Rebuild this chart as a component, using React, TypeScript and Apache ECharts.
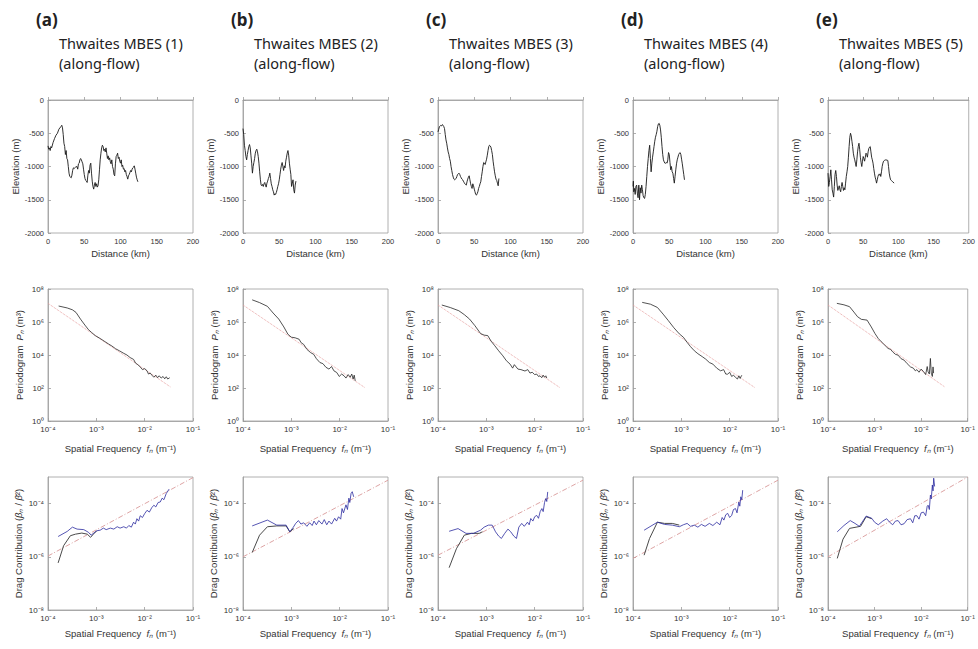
import React, { useEffect, useRef } from "react";
import * as echarts from "echarts";

// ---------- Data ----------
const panelLetters = ["(a)", "(b)", "(c)", "(d)", "(e)"];
const panelTitles = ["Thwaites MBES (1)", "Thwaites MBES (2)", "Thwaites MBES (3)", "Thwaites MBES (4)", "Thwaites MBES (5)"];
const panelSubtitle = "(along-flow)";

const distanceTicks = [0, 50, 100, 150, 200];
const elevationTicks = [-2000, -1500, -1000, -500, 0];

// Elevation profiles [distance km, elevation m]
const profileA = [[0,-690],[1,-740],[2,-720],[3,-760],[4,-700],[5,-720],[7,-640],[9,-580],[11,-530],[13,-500],[15,-440],[17,-410],[18,-400],[19,-380],[20,-420],[21,-520],[22,-650],[23,-700],[24,-820],[25,-760],[26,-880],[27,-900],[28,-1000],[29,-1100],[30,-1150],[31,-1160],[32,-1170],[33,-1130],[34,-1060],[35,-1020],[36,-1030],[38,-1010],[40,-1000],[41,-1040],[42,-960],[43,-950],[44,-900],[45,-880],[46,-900],[47,-930],[48,-960],[49,-1040],[50,-1120],[51,-1180],[52,-1210],[53,-1220],[54,-1240],[55,-1130],[56,-1060],[57,-1100],[58,-980],[59,-950],[60,-1100],[61,-1220],[62,-1300],[63,-1340],[64,-1280],[65,-1240],[66,-1300],[67,-1260],[68,-1310],[69,-1290],[70,-1200],[71,-1050],[72,-900],[73,-800],[74,-720],[75,-680],[76,-700],[77,-760],[78,-740],[79,-780],[80,-720],[81,-800],[82,-880],[83,-840],[84,-900],[85,-870],[86,-930],[87,-960],[88,-900],[89,-1000],[90,-1040],[91,-1120],[92,-1140],[93,-960],[94,-850],[95,-830],[96,-800],[97,-880],[98,-860],[99,-920],[100,-950],[101,-900],[102,-1000],[103,-980],[104,-1040],[105,-1030],[106,-1080],[107,-1060],[108,-1120],[109,-1150],[110,-1190],[111,-1140],[112,-1120],[113,-1090],[114,-1060],[115,-1080],[116,-1040],[117,-1020],[118,-1010],[119,-990],[120,-1040],[121,-1100],[122,-1160],[123,-1200],[124,-1230]];
const profileB = [[0,-430],[1,-520],[2,-680],[3,-760],[4,-850],[5,-900],[6,-820],[7,-760],[8,-700],[9,-670],[10,-720],[11,-840],[12,-950],[13,-1100],[14,-1000],[15,-940],[16,-880],[17,-800],[18,-760],[19,-740],[20,-780],[21,-850],[22,-950],[23,-1080],[24,-1200],[25,-1280],[26,-1290],[27,-1270],[28,-1300],[29,-1260],[30,-1240],[31,-1280],[32,-1310],[33,-1250],[34,-1220],[35,-1180],[36,-1150],[37,-1100],[38,-1180],[39,-1260],[40,-1300],[41,-1350],[42,-1380],[43,-1430],[44,-1410],[45,-1420],[46,-1390],[47,-1350],[48,-1300],[49,-1260],[50,-1200],[51,-1120],[52,-1040],[53,-980],[54,-940],[55,-1000],[56,-1060],[57,-990],[58,-1020],[59,-920],[60,-860],[61,-800],[62,-760],[63,-830],[64,-950],[65,-1040],[66,-1120],[67,-1300],[68,-1250],[69,-1200],[70,-1350],[71,-1400],[72,-1280],[73,-1220]];
const profileC = [[0,-480],[1,-440],[2,-400],[3,-390],[4,-380],[5,-390],[6,-370],[7,-380],[8,-400],[9,-430],[10,-520],[11,-600],[12,-650],[13,-720],[14,-780],[15,-820],[16,-880],[17,-920],[18,-1000],[19,-1060],[20,-1120],[21,-1160],[22,-1190],[23,-1200],[24,-1190],[25,-1180],[26,-1150],[27,-1120],[28,-1110],[29,-1100],[30,-1120],[31,-1150],[32,-1170],[33,-1190],[34,-1200],[35,-1220],[36,-1240],[37,-1260],[38,-1270],[39,-1280],[40,-1230],[41,-1190],[42,-1160],[43,-1140],[44,-1200],[45,-1260],[46,-1300],[47,-1330],[48,-1260],[49,-1290],[50,-1340],[51,-1380],[52,-1420],[53,-1430],[54,-1410],[55,-1380],[56,-1330],[57,-1300],[58,-1260],[59,-1230],[60,-1150],[61,-1080],[62,-1000],[63,-940],[64,-950],[65,-970],[66,-930],[67,-890],[68,-830],[69,-760],[70,-700],[71,-680],[72,-690],[73,-710],[74,-760],[75,-820],[76,-920],[77,-1000],[78,-1080],[79,-1140],[80,-1190],[81,-1210],[82,-1250],[83,-1290],[84,-1180]];
const profileD = [[0,-1300],[0.5,-1220],[1,-1380],[2,-1330],[3,-1420],[4,-1300],[5,-1280],[6,-1400],[7,-1470],[8,-1280],[9,-1500],[10,-1320],[11,-1400],[12,-1280],[13,-1350],[14,-1440],[15,-1470],[16,-1480],[17,-1420],[18,-1300],[19,-1150],[20,-1000],[21,-880],[22,-760],[23,-680],[24,-880],[25,-1080],[26,-950],[27,-860],[28,-780],[29,-700],[30,-620],[31,-560],[32,-520],[33,-470],[34,-400],[35,-360],[36,-350],[37,-380],[38,-450],[39,-560],[40,-700],[41,-820],[42,-900],[43,-930],[44,-950],[45,-950],[46,-940],[47,-950],[48,-900],[49,-790],[50,-820],[51,-940],[52,-1050],[53,-1000],[54,-1080],[55,-1100],[56,-1180],[57,-1250],[58,-1150],[59,-1050],[60,-960],[61,-900],[62,-860],[63,-820],[64,-800],[65,-790],[66,-820],[67,-890],[68,-960],[69,-1040],[70,-1120],[71,-1200]];
const profileE = [[0,-1100],[1,-1300],[2,-1240],[3,-1150],[4,-1050],[5,-1200],[6,-1350],[7,-1400],[8,-1460],[9,-1300],[10,-1120],[11,-1060],[12,-1150],[13,-1280],[14,-1360],[15,-1320],[16,-1290],[17,-1350],[18,-1380],[19,-1300],[20,-1240],[21,-1300],[22,-1360],[23,-1320],[24,-1350],[25,-1250],[26,-1150],[27,-1080],[28,-1000],[29,-860],[30,-700],[31,-560],[32,-500],[33,-540],[34,-620],[35,-700],[36,-800],[37,-860],[38,-900],[39,-950],[40,-1000],[41,-900],[42,-780],[43,-700],[44,-650],[45,-740],[46,-860],[47,-940],[48,-1000],[49,-920],[50,-850],[51,-880],[52,-920],[53,-860],[54,-800],[55,-820],[56,-860],[57,-780],[58,-730],[59,-710],[60,-700],[61,-780],[62,-860],[63,-900],[64,-950],[65,-1030],[66,-1100],[67,-1160],[68,-1200],[69,-1250],[70,-1200],[71,-1150],[72,-1120],[73,-1130],[74,-1110],[75,-1150],[76,-1080],[77,-1000],[78,-950],[79,-920],[80,-910],[82,-900],[84,-905],[85,-910],[86,-1000],[87,-1100],[88,-1160],[89,-1200],[90,-1210],[92,-1230],[94,-1250]];

// Periodograms [frequency 1/m, P m^3]
const periodA = [[1.66e-4,9.3e6],[2.5e-4,7.1e6],[3.2e-4,5.5e6],[3.8e-4,3.8e6],[4.7e-4,1.5e6],[5.8e-4,6.5e5],[6.9e-4,3.4e5],[8e-4,2.3e5],[9.5e-4,1.5e5],[1.2e-3,1.0e5],[1.5e-3,6.5e4],[1.8e-3,4.6e4],[2.1e-3,3.5e4],[2.5e-3,2.4e4],[3.0e-3,1.8e4],[3.7e-3,1.26e4],[4.3e-3,1.0e4],[5.0e-3,7.0e3],[5.9e-3,5.4e3],[6.5e-3,3.2e3],[7.2e-3,2.6e3],[8.1e-3,1.9e3],[9.0e-3,1.3e3],[1.0e-2,1.5e3],[1.12e-2,1.1e3],[1.2e-2,7e2],[1.3e-2,8e2],[1.45e-2,5.5e2],[1.55e-2,4.5e2],[1.7e-2,6e2],[1.85e-2,4.2e2],[2.0e-2,5.5e2],[2.2e-2,4.0e2],[2.4e-2,5.0e2],[2.6e-2,3.6e2],[2.8e-2,4.8e2],[3.0e-2,3.5e2],[3.3e-2,4.2e2]];
const periodB = [[1.55e-4,2.2e7],[2.2e-4,1.5e7],[3.2e-4,8.9e6],[4.2e-4,3.5e6],[5.5e-4,1.5e6],[7e-4,5e5],[8.5e-4,1.8e5],[1.0e-3,1.2e5],[1.2e-3,1.1e5],[1.45e-3,9e4],[1.6e-3,5.5e4],[1.8e-3,4.4e4],[2.1e-3,2.2e4],[2.5e-3,1.4e4],[2.9e-3,1.1e4],[3.3e-3,6e3],[3.9e-3,3.5e3],[4.5e-3,3.0e3],[5.2e-3,1.8e3],[6.0e-3,1.4e3],[6.8e-3,2.0e3],[7.6e-3,1.1e3],[8.7e-3,8.7e2],[9.8e-3,5.0e2],[1.1e-2,7e2],[1.23e-2,5.5e2],[1.35e-2,4.0e2],[1.5e-2,6.5e2],[1.65e-2,4.5e2],[1.78e-2,7e2],[1.9e-2,3.5e2],[2.0e-2,6e2],[2.1e-2,2.7e2]];
const periodC = [[1.2e-4,1.07e7],[1.8e-4,7.5e6],[2.7e-4,4.8e6],[3.5e-4,2.8e6],[4.5e-4,1.5e6],[5.8e-4,6e5],[7.6e-4,2.0e5],[9e-4,1.6e5],[1.07e-3,1.5e5],[1.25e-3,7e4],[1.5e-3,3.6e4],[1.8e-3,1.8e4],[2.2e-3,8.9e3],[2.6e-3,4.5e3],[3.1e-3,2.8e3],[3.5e-3,1.6e3],[3.8e-3,2.6e3],[4.5e-3,1.4e3],[5.2e-3,1.3e3],[6.3e-3,1.07e3],[7.2e-3,1.3e3],[8e-3,8e2],[8.9e-3,9e2],[1.0e-2,6.5e2],[1.1e-2,7e2],[1.2e-2,5e2],[1.29e-2,5.5e2],[1.4e-2,4.2e2],[1.5e-2,6e2],[1.6e-2,4.5e2],[1.7e-2,5.5e2],[1.78e-2,4e2]];
const periodD = [[1.55e-4,1.55e7],[2.3e-4,1.2e7],[3.2e-4,7.6e6],[4.2e-4,3e6],[5.4e-4,1.2e6],[7e-4,4.5e5],[9.1e-4,1.9e5],[1.1e-3,1.2e5],[1.32e-3,5.8e4],[1.55e-3,3.2e4],[1.86e-3,1.8e4],[2.2e-3,1.2e4],[2.7e-3,8e3],[3.2e-3,5.6e3],[3.8e-3,3.5e3],[4.5e-3,2.8e3],[5.4e-3,1.6e3],[6.5e-3,1.1e3],[7.5e-3,1.3e3],[8.3e-3,7e2],[9.1e-3,6.9e2],[1.0e-2,9e2],[1.1e-2,5e2],[1.2e-2,6e2],[1.32e-2,4.4e2],[1.45e-2,3.5e2],[1.55e-2,5.5e2],[1.65e-2,3.8e2],[1.75e-2,5.5e2],[1.8e-2,6e2]];
const periodE = [[1.55e-4,1.35e7],[2.2e-4,1.1e7],[2.9e-4,8.5e6],[3.6e-4,4e6],[4.3e-4,2.1e6],[5.2e-4,1.45e6],[6.9e-4,1.3e6],[8.5e-4,5e5],[1.02e-3,2.0e5],[1.2e-3,1.0e5],[1.4e-3,6.3e4],[1.65e-3,4e4],[1.95e-3,2.5e4],[2.2e-3,2.2e4],[2.45e-3,1.55e4],[2.8e-3,1.1e4],[3.2e-3,9.8e3],[3.7e-3,6e3],[4.3e-3,4.9e3],[5e-3,3e3],[5.9e-3,1.9e3],[6.8e-3,1.6e3],[7.5e-3,1.1e3],[8.1e-3,1.3e3],[9e-3,9e2],[1.0e-2,1.4e3],[1.12e-2,1.0e3],[1.25e-2,6.5e2],[1.35e-2,2.0e3],[1.41e-2,9.5e2],[1.5e-2,7e2],[1.58e-2,6.2e3],[1.65e-2,8e2],[1.74e-2,5e2],[1.8e-2,1.9e3],[1.85e-2,8e2]];

// Power-law fits to periodograms (end points)
const periodFitA = [[1e-4,1.35e7],[3.4e-2,1.17e2]];
const periodFitB = [[1e-4,1.07e7],[3.3e-2,1.07e2]];
const periodFitC = [[1e-4,1.07e7],[3.3e-2,1.07e2]];
const periodFitD = [[1e-4,1.07e7],[3.3e-2,1.07e2]];
const periodFitE = [[1e-4,1.07e7],[3.2e-2,1.17e2]];

// Drag contribution: dark (low-frequency) curve and blue curve
const dragDarkA = [[1.62e-4,5.9e-7],[2.1e-4,2.6e-6],[2.9e-4,6.2e-6],[3.7e-4,7.1e-6],[5e-4,7.8e-6],[6.5e-4,7.1e-6],[7.6e-4,5.4e-6],[8.7e-4,7.1e-6],[1.02e-3,9.5e-6]];
const dragBlueA = [[1.62e-4,5.8e-6],[2.5e-4,9e-6],[3.2e-4,1.3e-5],[4e-4,1.1e-5],[5.5e-4,1.05e-5],[6.9e-4,8.3e-6],[7.8e-4,6.5e-6],[9e-4,8e-6],[1.02e-3,9.5e-6],[1.2e-3,1.0e-5],[1.4e-3,1.2e-5],[1.6e-3,1.05e-5],[1.95e-3,1.2e-5],[2.3e-3,1.1e-5],[2.7e-3,1.35e-5],[3.1e-3,1.2e-5],[3.7e-3,1.35e-5],[4.2e-3,1.2e-5],[4.7e-3,1.5e-5],[5.3e-3,1.3e-5],[5.9e-3,2.0e-5],[6.4e-3,1.7e-5],[6.9e-3,2.7e-5],[7.5e-3,2.2e-5],[8.1e-3,3.5e-5],[9e-3,3.0e-5],[1.0e-2,4.2e-5],[1.12e-2,5.6e-5],[1.25e-2,4.8e-5],[1.4e-2,7.0e-5],[1.55e-2,8.7e-5],[1.7e-2,7.5e-5],[1.9e-2,1.1e-4],[2.1e-2,1.15e-4],[2.3e-2,1.6e-4],[2.5e-2,1.4e-4],[2.8e-2,2.4e-4],[3.2e-2,3.5e-4]];
const dragDarkB = [[1.55e-4,1.45e-6],[2.2e-4,6.5e-6],[3.2e-4,1.35e-5],[5e-4,1.45e-5],[7.8e-4,1.45e-5],[9.3e-4,8.7e-6],[1.12e-3,1.15e-5]];
const dragBlueB = [[1.55e-4,1.45e-5],[3.2e-4,2.4e-5],[5e-4,1.55e-5],[7.8e-4,1.55e-5],[9.3e-4,8.7e-6],[1.1e-3,1.3e-5],[1.23e-3,1.8e-5],[1.4e-3,2.3e-5],[1.58e-3,1.7e-5],[1.8e-3,1.9e-5],[2.1e-3,1.4e-5],[2.4e-3,1.9e-5],[2.7e-3,1.5e-5],[2.95e-3,2.2e-5],[3.3e-3,1.6e-5],[3.7e-3,2.3e-5],[4.3e-3,1.7e-5],[4.8e-3,2.5e-5],[5.4e-3,1.6e-5],[6e-3,2.2e-5],[6.8e-3,1.7e-5],[7.9e-3,2.8e-5],[8.6e-3,2.2e-5],[9.5e-3,3.2e-5],[1.05e-2,2.6e-5],[1.12e-2,6.5e-5],[1.2e-2,4.5e-5],[1.35e-2,9e-5],[1.45e-2,6e-5],[1.55e-2,1.6e-4],[1.62e-2,1.1e-4],[1.72e-2,2.4e-4],[1.82e-2,2.8e-4],[1.95e-2,1.8e-4]];
const dragDarkC = [[1.7e-4,3.9e-7],[2.4e-4,2.0e-6],[3.5e-4,6.5e-6],[4.9e-4,7.6e-6],[7.1e-4,7.6e-6],[8.3e-4,8.7e-6]];
const dragBlueC = [[1.7e-4,9.1e-6],[2.6e-4,1.15e-5],[3.8e-4,7.6e-6],[5.4e-4,7.6e-6],[7.6e-4,1.0e-5],[9e-4,1.3e-5],[1.1e-3,1.55e-5],[1.32e-3,1.55e-5],[1.55e-3,8.7e-6],[1.8e-3,6e-6],[2.05e-3,4.9e-6],[2.4e-3,7.6e-6],[2.8e-3,1.1e-5],[3.2e-3,8.7e-6],[3.7e-3,6e-6],[4.2e-3,4.9e-6],[4.7e-3,1.3e-5],[5.4e-3,1.8e-5],[6.1e-3,1.4e-5],[7.1e-3,2.0e-5],[7.7e-3,1.6e-5],[8.3e-3,2.75e-5],[9.2e-3,2.2e-5],[1.0e-2,3.2e-5],[1.1e-2,3.6e-5],[1.2e-2,2.8e-5],[1.3e-2,5e-5],[1.41e-2,6.5e-5],[1.5e-2,5e-5],[1.6e-2,1.1e-4],[1.7e-2,1.55e-4],[1.78e-2,1.2e-4],[1.86e-2,2.75e-4]];
const dragDarkD = [[1.7e-4,1.15e-6],[2.2e-4,4.9e-6],[3.2e-4,2.0e-5],[4.5e-4,1.8e-5],[6.5e-4,1.8e-5],[9.1e-4,1.55e-5]];
const dragBlueD = [[1.7e-4,1.0e-5],[3.2e-4,2.0e-5],[4.5e-4,1.65e-5],[6.5e-4,1.55e-5],[9.1e-4,1.35e-5],[1.1e-3,1.6e-5],[1.32e-3,1.8e-5],[1.55e-3,1.4e-5],[1.86e-3,1.55e-5],[2.2e-3,1.3e-5],[2.6e-3,1.65e-5],[3.1e-3,1.4e-5],[3.8e-3,1.8e-5],[4.5e-3,1.5e-5],[5.4e-3,2.0e-5],[6.3e-3,1.6e-5],[7e-3,3e-5],[7.6e-3,2.4e-5],[8.3e-3,3.8e-5],[9.1e-3,4.3e-5],[1.0e-2,3e-5],[1.1e-2,3.6e-5],[1.2e-2,6e-5],[1.32e-2,6.5e-5],[1.42e-2,4.5e-5],[1.55e-2,1.15e-4],[1.62e-2,8e-5],[1.7e-2,1.8e-4],[1.78e-2,1.4e-4],[1.86e-2,3.2e-4]];
const dragDarkE = [[1.58e-4,8.7e-7],[2.1e-4,4.6e-6],[2.9e-4,1.17e-5],[4e-4,1.3e-5],[5e-4,1.4e-5],[6.6e-4,3.2e-5],[8.7e-4,2.7e-5]];
const dragBlueE = [[1.58e-4,8.7e-6],[2.2e-4,1.5e-5],[3e-4,2.3e-5],[3.8e-4,1.8e-5],[4.7e-4,1.4e-5],[5.6e-4,2.2e-5],[6.6e-4,3.4e-5],[8.7e-4,2.8e-5],[1.0e-3,2.0e-5],[1.2e-3,1.6e-5],[1.5e-3,2.2e-5],[1.82e-3,2.7e-5],[2.1e-3,2.0e-5],[2.45e-3,1.6e-5],[2.8e-3,2.2e-5],[3.2e-3,2.3e-5],[3.7e-3,1.6e-5],[4.3e-3,1.75e-5],[5e-3,2.5e-5],[5.9e-3,2.7e-5],[6.6e-3,1.9e-5],[7.3e-3,3.5e-5],[8.1e-3,3.5e-5],[9e-3,2.6e-5],[1.0e-2,4.5e-5],[1.12e-2,4.8e-5],[1.25e-2,3.5e-5],[1.35e-2,8e-5],[1.41e-2,8.7e-5],[1.5e-2,6e-5],[1.58e-2,2.1e-4],[1.65e-2,1.5e-4],[1.74e-2,5e-4],[1.8e-2,3e-4],[1.86e-2,9e-4],[1.95e-2,4.4e-4]];

// Linear (slope ~1) fits to drag contribution (end points)
const dragFitA = [[1e-4,1.07e-6],[1e-1,9.5e-4]];
const dragFitB = [[1e-4,1.0e-6],[1e-1,7.6e-4]];
const dragFitC = [[1e-4,1.15e-6],[1e-1,7.6e-4]];
const dragFitD = [[1e-4,8.7e-7],[1e-1,7.6e-4]];
const dragFitE = [[1e-4,1.0e-6],[1e-1,1.0e-3]];

const profiles = [profileA, profileB, profileC, profileD, profileE];
const periods = [periodA, periodB, periodC, periodD, periodE];
const periodFits = [periodFitA, periodFitB, periodFitC, periodFitD, periodFitE];
const dragDarks = [dragDarkA, dragDarkB, dragDarkC, dragDarkD, dragDarkE];
const dragBlues = [dragBlueA, dragBlueB, dragBlueC, dragBlueD, dragBlueE];
const dragFits = [dragFitA, dragFitB, dragFitC, dragFitD, dragFitE];

// ---------- Layout / style ----------
const COL_LEFT = 48;
const COL_STEP = 195;
const PLOT_W = 145;
const ROW_TOP = [100, 289, 477];
const ROW_H = [133, 132, 133];
const AXIS_COLOR = "#9c9c9c";
const LABEL_COLOR = "#333333";
const FONT = "Liberation Sans, Arial, sans-serif";

const SUP: Record<string, string> = { "-": "⁻", "0": "⁰", "1": "¹", "2": "²", "3": "³", "4": "⁴", "5": "⁵", "6": "⁶", "7": "⁷", "8": "⁸", "9": "⁹" };
const powLabel = (v: number) => {
  const e = Math.round(Math.log10(v));
  return "10" + String(e).split("").map((c) => SUP[c] || c).join("");
};
const evenPowLabel = (v: number) => {
  const e = Math.round(Math.log10(v));
  return e % 2 === 0 ? powLabel(v) : "";
};
const plainLabel = (v: number) => String(v);

function baseAxis(gridIndex: number, labelSize: number) {
  return {
    gridIndex,
    axisLine: { show: true, lineStyle: { color: AXIS_COLOR, width: 0.8 } },
    axisTick: { show: true, inside: true, length: 3, lineStyle: { color: AXIS_COLOR, width: 0.8 } },
    axisLabel: { fontSize: labelSize, color: LABEL_COLOR, fontFamily: FONT, margin: 4 },
    splitLine: { show: false },
    nameLocation: "middle",
    nameTextStyle: { fontSize: 9.5, color: LABEL_COLOR, fontFamily: FONT, rich: { i: { fontStyle: "italic", fontSize: 9.5, color: LABEL_COLOR, fontFamily: FONT } } },
  };
}

function buildOption() {
  const grid: any[] = [];
  const xAxis: any[] = [];
  const yAxis: any[] = [];
  const series: any[] = [];
  const title: any[] = [];

  for (let c = 0; c < 5; c++) {
    const left = COL_LEFT + COL_STEP * c;
    title.push({
      text: panelLetters[c],
      left: 36 + COL_STEP * c,
      top: 11,
      padding: 0,
      textStyle: { fontSize: 17, fontWeight: "bold", color: "#222", fontFamily: "Noto Sans, sans-serif" },
    });
    title.push({
      text: panelTitles[c] + "\n" + panelSubtitle,
      left: 59 + COL_STEP * c,
      top: 33,
      padding: 0,
      textStyle: { fontSize: 14.5, fontWeight: "normal", color: "#222", fontFamily: "Noto Sans, sans-serif", lineHeight: 20 },
    });
    for (let r = 0; r < 3; r++) {
      grid.push({ left, top: ROW_TOP[r], width: PLOT_W, height: ROW_H[r], show: true, borderColor: AXIS_COLOR, borderWidth: 0.8, backgroundColor: "transparent" });
    }
  }

  for (let c = 0; c < 5; c++) {
    // Row 1: elevation profile
    const g0 = c * 3;
    const xb0 = baseAxis(g0, 7.5);
    const yb0 = baseAxis(g0, 7.5);
    xAxis.push({ ...xb0, type: "value", min: distanceTicks[0], max: distanceTicks[distanceTicks.length - 1], interval: 50, axisLabel: { ...xb0.axisLabel, formatter: plainLabel }, name: "Distance (km)", nameGap: 15 });
    yAxis.push({ ...yb0, type: "value", min: elevationTicks[0], max: elevationTicks[elevationTicks.length - 1], interval: 500, axisLabel: { ...yb0.axisLabel, formatter: plainLabel }, name: "Elevation (m)", nameGap: 27 });
    series.push({ type: "line", xAxisIndex: g0, yAxisIndex: g0, data: profiles[c], showSymbol: false, symbol: "none", lineStyle: { color: "#1a1a1a", width: 0.9 } });

    // Row 2: periodogram
    const g1 = c * 3 + 1;
    const xb1 = baseAxis(g1, 8);
    xAxis.push({ ...xb1, type: "log", logBase: 10, min: 1e-4, max: 1e-1, axisLabel: { ...xb1.axisLabel, formatter: powLabel }, name: "Spatial Frequency  {i|f}{i|ₙ} (m⁻¹)", nameGap: 22 });
    const yb1 = baseAxis(g1, 8);
    yAxis.push({ ...yb1, type: "log", logBase: 10, min: 1, max: 1e8, interval: 2, axisLabel: { ...yb1.axisLabel, formatter: evenPowLabel }, name: "Periodogram  {i|P}{i|ₙ} (m³)", nameGap: 24 });
    series.push({ type: "line", xAxisIndex: g1, yAxisIndex: g1, data: periodFits[c], showSymbol: false, symbol: "none", lineStyle: { color: "#e59a9a", width: 0.9, type: "dotted" } });
    series.push({ type: "line", xAxisIndex: g1, yAxisIndex: g1, data: periods[c], showSymbol: false, symbol: "none", lineStyle: { color: "#262626", width: 0.8 } });

    // Row 3: drag contribution
    const g2 = c * 3 + 2;
    const xb2 = baseAxis(g2, 8);
    xAxis.push({ ...xb2, type: "log", logBase: 10, min: 1e-4, max: 1e-1, axisLabel: { ...xb2.axisLabel, formatter: powLabel }, name: "Spatial Frequency  {i|f}{i|ₙ} (m⁻¹)", nameGap: 18 });
    const yb2 = baseAxis(g2, 8);
    yAxis.push({ ...yb2, type: "log", logBase: 10, min: 1e-8, max: 1e-3, interval: 2, axisLabel: { ...yb2.axisLabel, formatter: evenPowLabel, showMaxLabel: false }, name: "Drag Contribution ({i|β}{i|ₙ} / {i|β̄}²)", nameGap: 25 });
    series.push({ type: "line", xAxisIndex: g2, yAxisIndex: g2, data: dragFits[c], showSymbol: false, symbol: "none", lineStyle: { color: "#d99a9a", width: 0.9, type: [5, 2, 1, 2] } });
    series.push({ type: "line", xAxisIndex: g2, yAxisIndex: g2, data: dragDarks[c], showSymbol: false, symbol: "none", lineStyle: { color: "#4a4a4a", width: 1 } });
    series.push({ type: "line", xAxisIndex: g2, yAxisIndex: g2, data: dragBlues[c], showSymbol: false, symbol: "none", lineStyle: { color: "#2b2ba0", width: 0.8 } });
  }

  return { animation: false, backgroundColor: "#ffffff", title, grid, xAxis, yAxis, series };
}

export default function App() {
  const ref = useRef<HTMLDivElement>(null);
  useEffect(() => {
    if (!ref.current) return;
    const chart = echarts.init(ref.current, null, { renderer: "svg" });
    chart.setOption(buildOption() as any);
    return () => chart.dispose();
  }, []);
  return <div ref={ref} style={{ position: "fixed", left: 0, top: 0, width: 978, height: 649, background: "#fff" }} />;
}
